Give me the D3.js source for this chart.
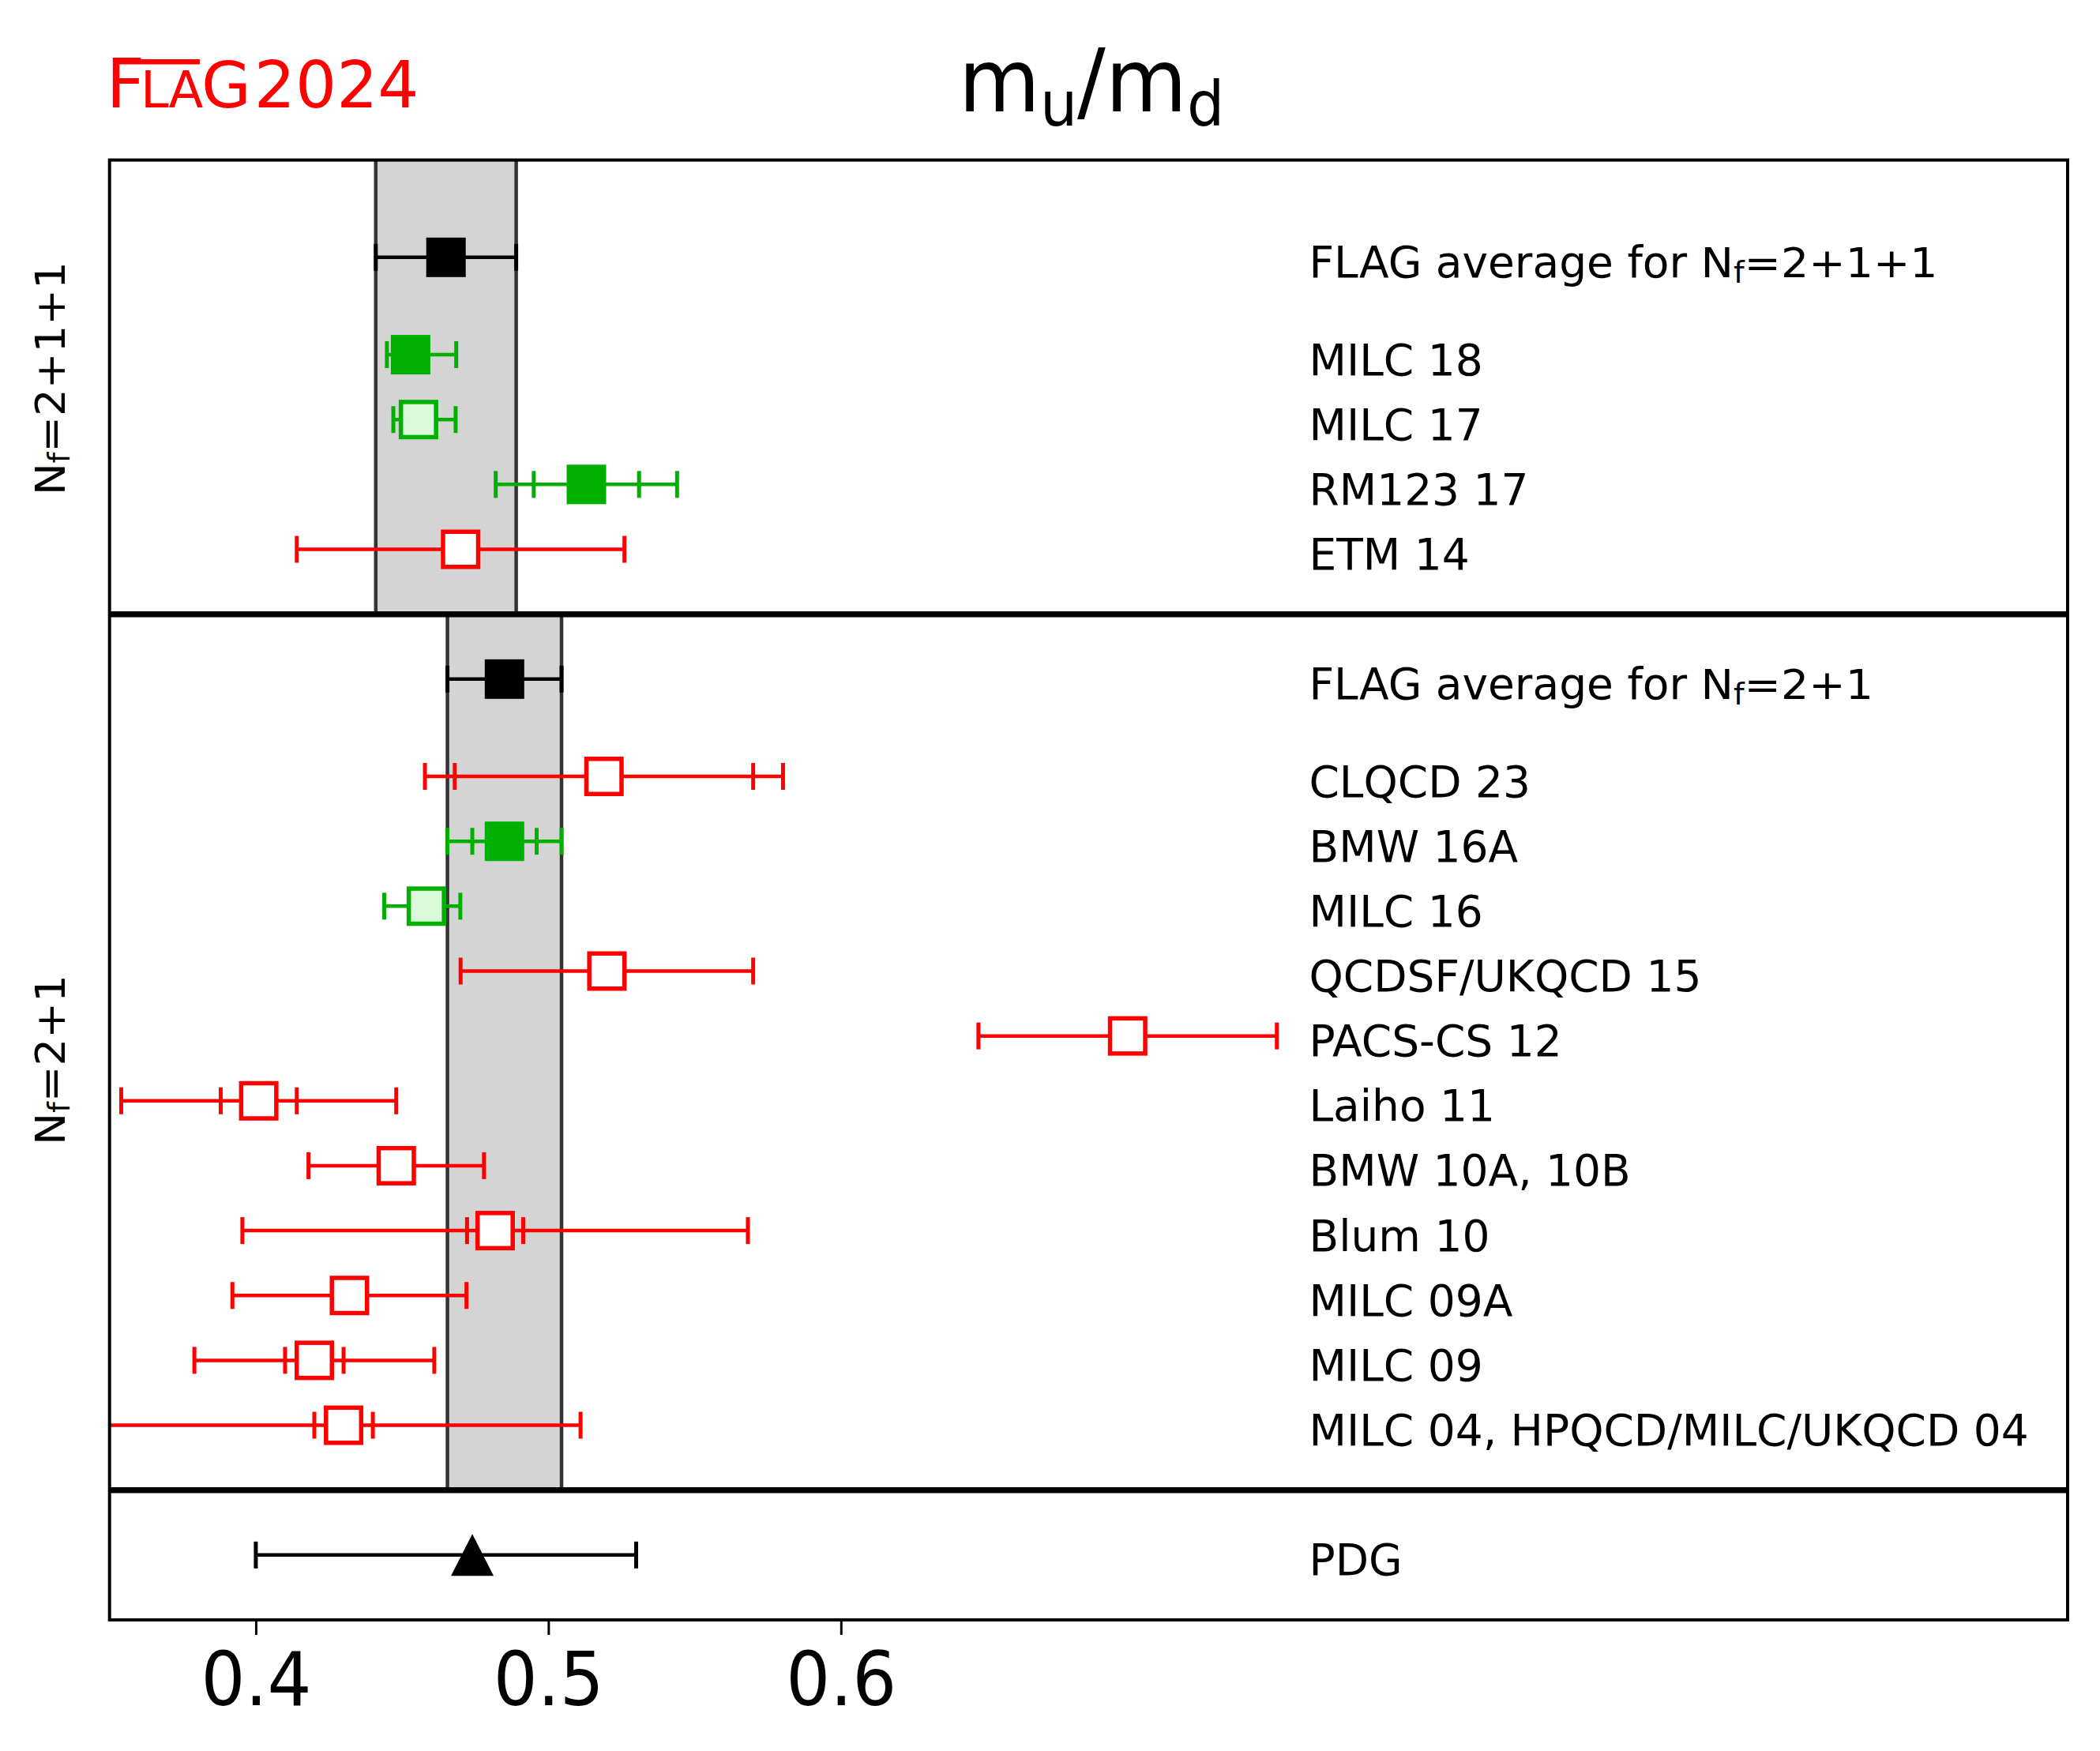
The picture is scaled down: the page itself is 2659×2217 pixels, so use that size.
<!DOCTYPE html>
<html><head><meta charset="utf-8">
<script src="https://cdn.jsdelivr.net/npm/d3@7"></script>
<style>
body{margin:0;background:#fff}
svg{display:block}
text{font-family:"DejaVu Sans",sans-serif;white-space:pre}
</style>
</head><body>
<svg id="chart" width="2659" height="2217"></svg>
<script>
// ---------------- data ----------------
const labels = ["FLAG average for N_f=2+1+1","MILC 18","MILC 17","RM123 17","ETM 14",
  "FLAG average for N_f=2+1","CLQCD 23","BMW 16A","MILC 16","QCDSF/UKQCD 15","PACS-CS 12",
  "Laiho 11","BMW 10A, 10B","Blum 10","MILC 09A","MILC 09","MILC 04, HPQCD/MILC/UKQCD 04","PDG"];
const groupOf = [0,0,0,0,0,1,1,1,1,1,1,1,1,1,1,1,1,2];
const panelLabels = ["N_f=2+1+1","N_f=2+1",""];
const values  = [0.465,0.4529,0.4556,0.513,0.470,0.485,0.519,0.485,0.4583,0.520,0.698,0.401,0.448,0.4818,0.432,0.420,0.430,0.474];
const errLow  = [0.024,0.0081,0.0086,0.031,0.056,0.0195,0.0612,0.0195,0.0144,0.050,0.051,0.047,0.030,0.0864,0.040,0.041,0.081,0.074];
const errHigh = [0.024,0.0156,0.0127,0.031,0.056,0.0195,0.0612,0.0195,0.0116,0.050,0.051,0.047,0.030,0.0864,0.040,0.041,0.081,0.056];
const statErr = [null,0.0048,0.0038,0.018,null,null,0.051,0.011,0.0038,null,null,0.013,null,0.0096,null,0.010,0.010,null];
const kind    = ["avg","filled","light","filled","open","avg","open","filled","light","open","open","open","open","open","open","open","open","pdg"];
const xTicks  = [0.4,0.5,0.6];
const xDomain = [0.35,1.0193];
const labelX  = 0.76;
const titleParts = ["m","u","/m","d"];
const logoText = ["F","L","A","G","2024"];

// ---------------- layout ----------------
const svg = d3.select("#chart");
const n = labels.length;
const nGroups = panelLabels.length;
const rowY = new Array(n);
const groupSpan = [];
const seps = [];
let p = 0;
for (let g = nGroups - 1; g >= 0; g--) {
  const idx = d3.range(n).filter(i => groupOf[i] === g);
  const start = p;
  for (let k = idx.length - 1; k >= 0; k--) {
    const i = idx[k];
    p += kind[i] === "avg" ? 1.5 : 1;
    rowY[i] = p;
  }
  p += 1;
  groupSpan[g] = [start, p];
  if (g > 0) seps.push(p);
}
const yMax = p + 0.5;
groupSpan[0][1] = yMax;

const x = d3.scaleLinear().domain(xDomain).range([138.7, 2618]);
const y = d3.scaleLinear().domain([0, yMax]).range([2051, 202.6]);

const RED = "#ff0000", GREEN = "#00b000", LIGHT = "#dafada";
const colorOf = k => (k === "avg" || k === "pdg") ? "#000" : (k === "open" ? RED : GREEN);

svg.append("rect").attr("width",2659).attr("height",2217).attr("fill","#fff");

// bands
const bandG = svg.append("g");
d3.range(n).filter(i => kind[i] === "avg").forEach(i => {
  const g = groupOf[i];
  const x0 = x(values[i] - errLow[i]), x1 = x(values[i] + errHigh[i]);
  const yt = y(groupSpan[g][1]), yb = y(groupSpan[g][0]);
  bandG.append("rect").attr("x",x0).attr("y",yt).attr("width",x1-x0).attr("height",yb-yt).attr("fill","#d4d4d4");
  [x0,x1].forEach(xx => bandG.append("line").attr("x1",xx).attr("x2",xx).attr("y1",yt).attr("y2",yb)
    .attr("stroke","#333").attr("stroke-width",4.5));
});

// error bars
const CAP = 17;
const ebG = svg.append("g");
d3.range(n).forEach(i => {
  const c = colorOf(kind[i]);
  const yy = y(rowY[i]);
  const lo = values[i] - errLow[i], hi = values[i] + errHigh[i];
  const lc = Math.max(lo, xDomain[0]), hc = Math.min(hi, xDomain[1]);
  ebG.append("line").attr("x1",x(lc)).attr("x2",x(hc)).attr("y1",yy).attr("y2",yy)
    .attr("stroke",c).attr("stroke-width",4.5);
  const caps = [lo, hi];
  if (statErr[i] != null) caps.push(values[i] - statErr[i], values[i] + statErr[i]);
  caps.filter(v => v >= xDomain[0] && v <= xDomain[1]).forEach(v => {
    ebG.append("line").attr("x1",x(v)).attr("x2",x(v)).attr("y1",yy-CAP).attr("y2",yy+CAP)
      .attr("stroke",c).attr("stroke-width",5);
  });
});

// markers
const mG = svg.append("g");
const MS = 44.5;
d3.range(n).forEach(i => {
  const k = kind[i];
  const cx = x(values[i]), cy = y(rowY[i]);
  if (k === "pdg") {
    mG.append("path").attr("d",`M${cx},${cy-26.5}L${cx+27},${cy+26.5}L${cx-27},${cy+26.5}Z`).attr("fill","#000");
    return;
  }
  const fill = k === "avg" ? "#000" : k === "filled" ? GREEN : k === "light" ? LIGHT : "#fff";
  mG.append("rect").attr("x",cx-MS/2).attr("y",cy-MS/2).attr("width",MS).attr("height",MS)
    .attr("fill",fill).attr("stroke",colorOf(k)).attr("stroke-width",5.5);
});

// separators and frame
seps.forEach(s => svg.append("line").attr("x1",x(xDomain[0])).attr("x2",x(xDomain[1]))
  .attr("y1",y(s)).attr("y2",y(s)).attr("stroke","#000").attr("stroke-width",7.5));
svg.append("rect").attr("x",x(xDomain[0])).attr("y",y(yMax)).attr("width",x(xDomain[1])-x(xDomain[0]))
  .attr("height",y(0)-y(yMax)).attr("fill","none").attr("stroke","#000").attr("stroke-width",4);

// math helper for N_f = ...
function appendNf(t, str, fs, stretch) {
  const rest = str.replace(/^N_f/, "");
  t.append("tspan").attr("font-size",fs).text("N");
  t.append("tspan").attr("font-size",fs*0.7).attr("dy",fs*0.13).text("f");
  t.append("tspan").attr("font-size",fs).attr("dy",-fs*0.13).text(rest);
  const nat = t.node().getComputedTextLength();
  t.attr("textLength", nat*stretch).attr("lengthAdjust","spacingAndGlyphs");
}

// right-side labels
const lG = svg.append("g");
d3.range(n).forEach(i => {
  const base = y(rowY[i]) + 25.5;
  const lab = labels[i];
  const m = lab.indexOf("N_f");
  if (m < 0) {
    lG.append("text").attr("x",x(labelX)).attr("y",base).attr("font-size",55).text(lab);
  } else {
    const t1 = lG.append("text").attr("x",x(labelX)).attr("y",base).attr("font-size",55).text(lab.slice(0,m));
    const w = t1.node().getComputedTextLength();
    const t2 = lG.append("text").attr("x",x(labelX)+w).attr("y",base);
    appendNf(t2, lab.slice(m), 52, 1.065);
  }
});

// left panel labels (rotated)
const panelCenters = [479.2, 1342];
panelLabels.forEach((pl, g) => {
  if (!pl) return;
  const cy = panelCenters[g];
  const t = svg.append("text").attr("transform",`translate(81.7,${cy}) rotate(-90)`)
    .attr("text-anchor","middle");
  appendNf(t, pl, 52, 1.05);
});

// x axis
const ax = svg.append("g").attr("transform",`translate(0,${y(0)})`)
  .call(d3.axisBottom(x).tickValues(xTicks).tickFormat(d3.format(".1f")).tickSize(19).tickSizeOuter(0));
ax.select(".domain").remove();
ax.selectAll(".tick line").attr("stroke","#000").attr("stroke-width",3);
ax.selectAll(".tick text").attr("y",108.3).attr("dy",null).attr("fill","#000")
  .attr("font-size",94).attr("font-family","DejaVu Sans")
  .attr("textLength",140).attr("lengthAdjust","spacingAndGlyphs");

// title
const title = svg.append("text").attr("transform","translate(1382,140.7) scale(0.955,1)")
  .attr("text-anchor","middle").attr("font-size",111);
title.append("tspan").attr("font-size",111).text(titleParts[0]);
title.append("tspan").attr("font-size",78).attr("dy",18.6).text(titleParts[1]);
title.append("tspan").attr("font-size",111).attr("dy",-18.6).text(titleParts[2]);
title.append("tspan").attr("font-size",78).attr("dy",18.6).text(titleParts[3]);

// FLAG 2024 logo (single text with tspans; letter-spacing tightens without overlapping boxes)
const logo = svg.append("g").attr("fill",RED);
const lt = logo.append("text").attr("x",134.6).attr("y",135.7);
lt.append("tspan").attr("font-size",85).attr("letter-spacing",-6.1).text(logoText[0]);
lt.append("tspan").attr("font-size",64).attr("dx",0.5).text(logoText[1]);
lt.append("tspan").attr("font-size",64).attr("letter-spacing",-2.3).text(logoText[2]);
lt.append("tspan").attr("font-size",81).attr("dy",0).text(logoText[3]);
lt.append("tspan").attr("font-size",82).attr("dx",4).text(logoText[4]);
logo.append("rect").attr("x",143).attr("y",75).attr("width",110).attr("height",6.5);
</script>
</body></html>
